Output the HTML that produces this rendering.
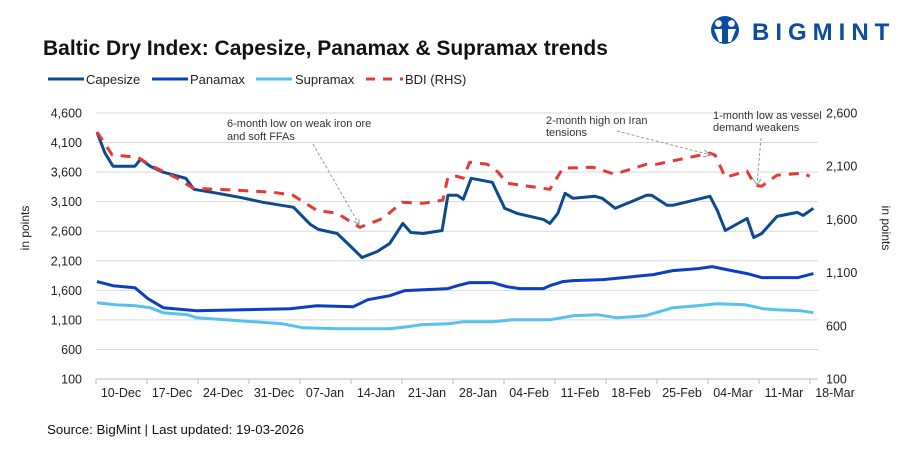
<!DOCTYPE html>
<html><head><meta charset="utf-8"><style>
body{margin:0;width:907px;height:453px;background:#fff;overflow:hidden;font-family:"Liberation Sans",Arial,sans-serif}
svg text{font-family:"Liberation Sans",Arial,sans-serif}
</style></head><body>
<svg id="chart" width="907" height="453">
  <g>
    <circle cx="725" cy="30" r="14" fill="#0d4da1"/>
    <circle cx="718.5" cy="23.5" r="3.4" fill="#fff"/><circle cx="731.5" cy="23.5" r="3.4" fill="#fff"/>
    <path d="M714 29h8v13h-3zM728 29h8l-5 13h-3z" fill="#fff"/>
    <text x="752" y="40" font-size="24" font-weight="bold" fill="#0d4da1" letter-spacing="6">BIGMINT</text>
  </g>
  <text x="43" y="55" font-size="21" font-weight="bold" fill="#111">Baltic Dry Index: Capesize, Panamax &amp; Supramax trends</text>
  <g font-size="13" fill="#222">
    <g><line x1="48" y1="79" x2="84" y2="79" stroke="#0b4a8f" stroke-width="3"/><text x="86" y="84">Capesize</text></g>
    <g><line x1="152" y1="79" x2="188" y2="79" stroke="#0a3fc4" stroke-width="3"/><text x="190" y="84">Panamax</text></g>
    <g><line x1="256" y1="79" x2="292" y2="79" stroke="#55c1ee" stroke-width="3"/><text x="295" y="84">Supramax</text></g>
    <g><line x1="366" y1="79" x2="403" y2="79" stroke="#e53935" stroke-width="3" stroke-dasharray="9,8"/><text x="405" y="84">BDI (RHS)</text></g>
  </g>
  <g id="grid"></g><g id="axes"></g><g id="series"></g>
  <g font-size="11" fill="#333">
    <text x="227" y="127">6-month low on weak iron ore</text>
    <text x="227" y="140">and soft FFAs</text>
    <line x1="313" y1="144" x2="359" y2="224" stroke="#999" stroke-dasharray="3,2"/>
    <path d="M354 221l5 4 0-6" fill="none" stroke="#999"/>
    <text x="546" y="124">2-month high on Iran</text>
    <text x="546" y="136">tensions</text>
    <line x1="617" y1="131" x2="711" y2="155" stroke="#999" stroke-dasharray="3,2"/>
    <path d="M704 150l7 5-8 2" fill="none" stroke="#999"/>
    <text x="713" y="119">1-month low as vessel</text>
    <text x="713" y="131">demand weakens</text>
    <line x1="761" y1="138" x2="757" y2="185" stroke="#999" stroke-dasharray="3,2"/>
    <path d="M753 179l4 6 4-6" fill="none" stroke="#999"/>
  </g>
  <text transform="translate(29,228) rotate(-90)" text-anchor="middle" font-size="12" fill="#222">in points</text>
  <text transform="translate(882,228) rotate(90)" text-anchor="middle" font-size="12" fill="#222">in points</text>
  <text x="47" y="434" font-size="13.3" fill="#111">Source: BigMint | Last updated: 19-03-2026</text>
</svg>
<script>
const leftTicks=[100,600,1100,1600,2100,2600,3100,3600,4100,4600];
const rightTicks=[100,600,1100,1600,2100,2600];
const xLabels=["10-Dec","17-Dec","24-Dec","31-Dec","07-Jan","14-Jan","21-Jan","28-Jan","04-Feb","11-Feb","18-Feb","25-Feb","04-Mar","11-Mar","18-Mar"];
const capeDays=[0,1.1,2.2,5.2,6,7.3,9.1,12.2,13.3,16.6,19.6,22.8,27,29.3,30.4,33,35,36.4,38.5,40.2,42,43.1,44.8,47.4,48.2,49.5,50.3,51.4,54.3,56,57.7,61.3,62.2,63.3,64.3,65.4,68.4,69.4,71.2,75.5,76.2,78.3,79.1,84.2,85.2,86.3,89.3,90.2,91.3,93.4,96.2,97,98.4];
const capeVals=[4277,3921,3700,3700,3819,3700,3598,3496,3310,3242,3174,3089,3004,2715,2630,2562,2325,2155,2257,2393,2732,2579,2562,2613,3208,3208,3140,3496,3428,2987,2902,2800,2732,2902,3242,3157,3191,3157,2987,3208,3208,3038,3038,3191,2953,2613,2817,2494,2562,2851,2919,2868,2987];
const panaDays=[0,2.2,5.2,7,9.1,13.7,26.5,30.2,35.2,37.2,40.2,42.3,48.2,49.5,51.2,54.3,56.3,58.1,61.3,62.2,64,65.4,69.5,72.3,76.4,79.1,82.6,84.5,86.5,89.3,91.3,96.3,98.4];
const panaVals=[1747,1679,1645,1459,1306,1255,1289,1340,1323,1442,1510,1595,1629,1679,1730,1730,1662,1629,1629,1679,1747,1764,1781,1815,1866,1934,1968,2002,1951,1883,1815,1815,1883];
const supraDays=[0,2.5,5.2,7.3,9.1,12.4,13.7,19.6,25.5,28.3,33,40.2,42.6,44.4,48.2,50.3,54.3,57.1,62.2,65.4,68.7,71.4,75.3,79.1,82.4,85.2,89,91.5,93.4,96.6,98.4];
const supraVals=[1391,1357,1340,1306,1221,1187,1136,1085,1034,966,949,949,983,1017,1034,1068,1068,1102,1102,1170,1187,1136,1170,1306,1340,1374,1357,1289,1272,1255,1221];
const bdiDays=[0,2.1,5.6,7.3,11,13.2,19.2,24.2,26.9,30.2,33,36.1,39.3,41.9,44.8,47.5,48.2,49.4,50.3,51.2,53.6,55.1,56.3,62.2,64,68.1,71.1,75.5,76.9,84.2,84.9,86.3,89.3,90.4,91.3,93.4,96.9,97.9];
const bdiVals=[2421,2204,2185,2110,1987,1893,1874,1855,1827,1685,1657,1525,1610,1761,1751,1780,1996,2006,1987,2138,2119,2044,1940,1883,2081,2091,2025,2119,2119,2223,2204,1996,2053,1921,1912,2015,2034,2006];

const NS="http://www.w3.org/2000/svg";
const X0=97,PX=7.28,Y0=379,Y1=113,PL=96,PR=818;
const x=d=>X0+d*PX;
const yL=v=>Y0-(v-100)/(4600-100)*(Y0-Y1);
const yR=v=>Y0-(v-100)/(2600-100)*(Y0-Y1);
function mk(t,a,p){const e=document.createElementNS(NS,t);for(const k in a)e.setAttribute(k,a[k]);p.appendChild(e);return e;}
const grid=document.getElementById('grid'),axes=document.getElementById('axes'),series=document.getElementById('series');
leftTicks.forEach(v=>{
  if(v>100){const g=mk('line',{x1:PL,x2:PR,y1:yL(v),y2:yL(v),stroke:'#d9d9d9','stroke-width':1},grid);
  
  }
  const t=mk('text',{x:82,y:yL(v)+4.5,'text-anchor':'end','font-size':12.5,fill:'#222'},axes);t.textContent=v.toLocaleString('en-US');
  
  
});
rightTicks.forEach(v=>{
  const t=mk('text',{x:826,y:yR(v)+4.5,'font-size':12.5,fill:'#222'},axes);t.textContent=v.toLocaleString('en-US');
  
  
});
const ax=mk('line',{x1:PL,x2:PR,y1:Y0,y2:Y0,stroke:'#bbb'},axes);


xLabels.forEach((l,i)=>{
  const tx=PL+i*51;
  const tk=mk('line',{x1:tx,x2:tx,y1:Y0,y2:Y0+5,stroke:'#bbb'},axes);
  
  
  const t=mk('text',{x:tx+25,y:Y0+18,'text-anchor':'middle','font-size':12.5,fill:'#222'},axes);t.textContent=l;
  
  
});
function line(days,vals,ys,col,dash,name){
  const pts=days.map((d,i)=>x(d).toFixed(1)+','+ys(vals[i]).toFixed(1)).join(' ');
  const a={points:pts,fill:'none',stroke:col,'stroke-width':3,'stroke-linejoin':'round'};
  if(dash)a['stroke-dasharray']=dash;
  const e=mk('polyline',a,series);
  
  
}
line(supraDays,supraVals,yL,'#55c1ee',null,'supramax-line');
line(panaDays,panaVals,yL,'#0a3fc4',null,'panamax-line');
line(capeDays,capeVals,yL,'#0b4a8f',null,'capesize-line');
line(bdiDays,bdiVals,yR,'#e53935','10,8','bdi-line');
</script>
</body></html>
